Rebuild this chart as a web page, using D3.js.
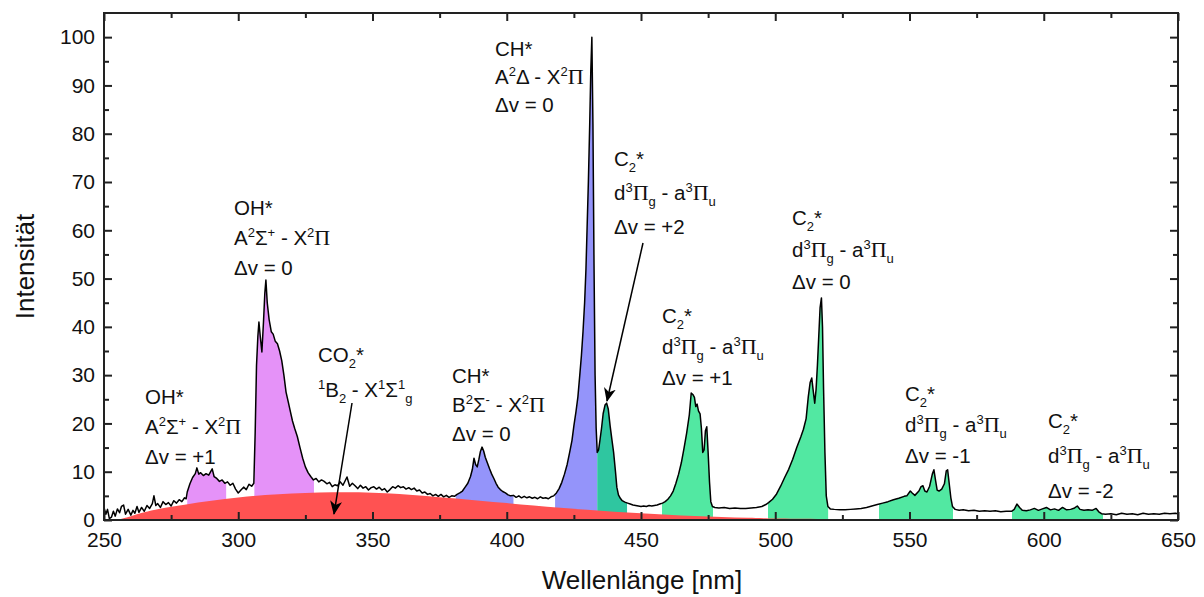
<!DOCTYPE html>
<html lang="de">
<head>
<meta charset="UTF-8">
<title>Flammenspektrum</title>
<script src="https://cdn.jsdelivr.net/npm/d3@7"></script>
<style>
    body { margin: 0; padding: 0; background: #fff; }
    svg { display: block; font-family: Arial, "Liberation Sans", sans-serif; }
    .tick text { font-size: 21px; fill: #111; }
    .label { font-size: 20.5px; fill: #111; }
</style>
</head>
<body>
<div id="chart"></div>
<script>
// ---- data ----
const spectrum = [
    [250, 2.6], [250.7, 1.2], [251.3, 2.2], [252, 0.3], [252.8, 0.6], [253.5, 1.8], [254.2, 0.8], [255, 2.3],
    [255.8, 1.5], [256.5, 2.8], [257.3, 3.1], [258, 1.2], [259, 2.2], [260, 1.0], [260.8, 2.0], [261.5, 1.4],
    [262.3, 2.8], [263, 1.6], [264, 2.6], [265, 1.8], [266, 3.0], [267, 2.4], [268, 3.4], [268.6, 5.0],
    [269.3, 3.0], [270, 3.4], [271, 2.6], [272, 3.8], [273, 3.2], [274, 3.6], [275, 2.9], [276, 4.0],
    [277, 3.5], [278, 4.2], [279, 3.8], [280, 4.6], [280.6, 4.4], [281, 5.8], [282, 7.5], [283, 8.8],
    [284, 9.6], [284.6, 10.8], [285.3, 9.5], [286, 9.8], [287, 9.2], [288, 9.6], [289, 9.3], [290.3, 10.6],
    [291, 9.0], [292, 8.6], [293, 8.0], [294, 8.3], [295, 7.6], [296, 7.9], [297, 7.2], [298, 7.6],
    [299, 6.4], [300, 5.6], [301, 6.2], [302, 6.8], [303, 6.3], [304, 7.4], [305, 7.0], [305.8, 7.6],
    [306.3, 18], [306.8, 32], [307.3, 38], [307.7, 41], [308.2, 38], [308.8, 34.8], [309.4, 41], [309.9, 47],
    [310.3, 49.7], [310.8, 45], [311.5, 41.5], [312.3, 39], [313, 38.5], [313.8, 37], [314.6, 36.5], [315.4, 35],
    [316.2, 33], [317, 30], [317.8, 26.5], [318.6, 24.5], [319.4, 22.5], [320.2, 20.5], [321, 19], [322, 17.3],
    [323, 15], [324, 12.8], [325, 11], [326, 9.8], [327, 9.0], [328, 8.3], [329, 8.6], [330, 7.9],
    [331, 8.3], [332, 8.0], [333, 7.5], [334, 7.8], [335, 6.9], [336, 7.3], [337, 7.1], [338, 7.9],
    [339, 7.2], [340.5, 8.9], [341.5, 7.0], [342.5, 7.6], [343.5, 7.1], [344.5, 6.5], [345.5, 7.2], [346.5, 6.6],
    [347.5, 6.9], [348.5, 6.2], [349.5, 6.7], [350.5, 6.9], [351.5, 6.4], [352.5, 6.8], [353.5, 6.2], [354.5, 6.5],
    [355.5, 5.8], [356.5, 6.3], [357.5, 6.9], [358.5, 6.6], [359.5, 7.1], [360.5, 6.7], [361.5, 6.9], [362.5, 6.4],
    [363.5, 6.7], [364.5, 6.3], [365.5, 6.6], [366.5, 6.0], [367.5, 6.2], [368.5, 5.6], [369.5, 5.8], [370.5, 5.3],
    [371.5, 5.5], [372.5, 5.0], [373.5, 5.3], [374.5, 4.9], [375.5, 5.3], [376.5, 4.8], [377.5, 5.1], [378.5, 4.7],
    [379.5, 5.0], [380.5, 4.9], [381.5, 5.3], [382.5, 5.6], [383.5, 6.0], [384.5, 6.8], [385.5, 7.6], [386.5, 9.0],
    [387.2, 10.5], [387.8, 12.8], [388.4, 11.5], [389, 11.0], [389.6, 12.5], [390.2, 14.2], [390.8, 15.1], [391.4, 14.3],
    [392, 13.0], [392.8, 11.8], [393.6, 10.6], [394.4, 9.5], [395.2, 8.6], [396, 7.6], [396.8, 6.8], [397.6, 6.3],
    [398.5, 5.9], [399.5, 5.6], [400.5, 5.2], [401.5, 5.0], [402.5, 5.1], [403.5, 4.7], [404.5, 5.0], [405.5, 4.6],
    [406.5, 4.9], [407.5, 4.6], [408.5, 4.8], [409.5, 4.5], [410.5, 4.7], [411.5, 4.4], [412.5, 4.8], [413.5, 4.5],
    [414.5, 4.6], [415.5, 4.4], [416.5, 4.8], [417.5, 5.0], [418.5, 5.6], [419.5, 6.5], [420.5, 7.8], [421.5, 9.5],
    [422.5, 11.5], [423.5, 14.2], [424.3, 16.5], [425, 19.5], [425.8, 22.5], [426.5, 25.5], [427.2, 30], [427.8, 34],
    [428.4, 39], [429, 45], [429.5, 52], [429.9, 60], [430.4, 70], [430.9, 82], [431.3, 93], [431.7, 100],
    [432.1, 82], [432.5, 53], [432.9, 30], [433.3, 19], [433.7, 14], [434.2, 14.5], [434.7, 16.5], [435.3, 19],
    [435.9, 22], [436.6, 23.8], [437.2, 24.2], [437.8, 23], [438.5, 19.5], [439.2, 16.5], [439.8, 14], [440.5, 10],
    [441, 6.8], [441.6, 5.2], [442.3, 4.5], [443, 4.0], [444, 3.7], [445, 3.5], [446, 3.3], [447, 3.1],
    [448, 3.0], [449, 2.9], [450, 2.8], [451, 2.9], [452, 2.8], [453, 3.0], [454, 2.9], [455, 3.0],
    [456, 3.1], [457, 3.3], [458, 3.5], [459, 3.8], [460, 4.3], [461, 5.0], [462, 6.0], [463, 7.6],
    [464, 9.5], [465, 11.8], [466, 14.8], [467, 18.0], [468, 21.8], [468.7, 26.3], [469.3, 26], [469.9, 25.4],
    [470.4, 23.5], [470.9, 24.0], [471.4, 22.6], [472, 22], [472.5, 19], [473, 14], [473.5, 14.5], [474, 18.5],
    [474.5, 19.3], [475, 14], [475.5, 8], [476, 3.8], [476.6, 2.8], [477.5, 2.6], [479, 2.5], [481, 2.6],
    [483, 2.4], [485, 2.5], [487, 2.4], [489, 2.4], [491, 2.5], [493, 2.6], [495, 2.8], [496.5, 3.2],
    [497.5, 3.6], [499, 4.3], [500.5, 5.4], [502, 7.0], [503.5, 8.8], [505, 10.5], [506.5, 12.6], [508, 15],
    [509.5, 17.2], [510.5, 18.8], [511.5, 21], [512.3, 25.5], [513, 28.5], [513.6, 29.4], [514.2, 26.5], [514.7, 24.2],
    [515.2, 27], [515.7, 32], [516.2, 38], [516.7, 44], [517.2, 46], [517.6, 40], [518, 27], [518.5, 14],
    [519, 5], [519.6, 2.8], [520.5, 2.3], [522, 2.2], [524, 2.1], [526, 2.1], [528, 2.2], [530, 2.3],
    [532, 2.4], [534, 2.6], [536, 2.9], [538, 3.2], [540, 3.5], [542, 3.8], [544, 4.2], [546, 4.5],
    [548, 4.9], [549, 5.0], [550.3, 6.0], [551, 5.6], [552, 5.1], [553.5, 6.0], [554.3, 6.9], [555, 7.1],
    [555.7, 6.0], [556.5, 5.8], [557.5, 7.0], [558.5, 9.5], [559.1, 10.4], [559.7, 8.2], [560.3, 6.2], [561, 6.0],
    [562, 6.4], [563, 7.5], [563.7, 10.2], [564.2, 10.4], [564.8, 7.5], [565.4, 4.6], [566, 2.8], [567, 2.2],
    [568.5, 2.0], [570, 2.1], [572, 1.9], [574, 2.0], [576, 1.8], [578, 1.9], [580, 1.8], [582, 1.9],
    [584, 1.7], [586, 1.8], [588, 1.8], [589, 2.2], [590, 3.3], [591, 2.6], [592, 2.0], [593.5, 1.9],
    [595, 2.1], [596.5, 2.4], [598, 2.0], [599.5, 2.3], [601, 2.6], [602.5, 2.1], [604, 2.3], [605.5, 2.0],
    [607, 2.6], [608.5, 2.1], [610, 2.2], [611.5, 2.5], [612.5, 2.9], [613.5, 2.2], [615, 2.0], [616.5, 2.1],
    [618, 2.0], [619.5, 2.4], [620.5, 1.7], [621.5, 1.3], [623, 1.2], [625, 1.3], [627, 1.1], [629, 1.4],
    [631, 1.2], [633, 1.3], [635, 1.1], [637, 1.4], [639, 1.2], [641, 1.3], [643, 1.2], [645, 1.4],
    [647, 1.3], [649, 1.4], [650, 1.3]
];

// CO2* continuum (red)
const co2 = [
    [255, 0], [260, 0.8], [265, 1.6], [270, 2.3], [280, 3.2], [290, 4.0], [300, 4.7], [310, 5.2],
    [320, 5.5], [330, 5.7], [340, 5.8], [350, 5.7], [360, 5.4], [370, 5.0], [380, 4.5], [390, 4.0],
    [400, 3.5], [410, 3.0], [420, 2.5], [430, 2.1], [440, 1.7], [450, 1.4], [460, 1.1], [470, 0.8],
    [480, 0.6], [490, 0.45], [500, 0.3], [520, 0.2], [550, 0.15], [600, 0.12], [650, 0.12]
];

// shaded bands [from, to, species]
const bands = [
    [281, 295.5, 'OH'], [306, 328.2, 'OH'],
    [381, 402.5, 'CH'], [418, 433.7, 'CH'],
    [433.7, 444.8, 'C2a'],
    [457.8, 476.8, 'C2'], [497.3, 519.7, 'C2'], [538.6, 566.2, 'C2'], [588.2, 622.1, 'C2']
];

const xTicks = [250, 300, 350, 400, 450, 500, 550, 600, 650];
const yTicks = [0, 10, 20, 30, 40, 50, 60, 70, 80, 90, 100];

// ---- layout ----
const W = 1204, H = 597;
const L = 104, R = 1178, T = 13, B = 520;

const bandColor = { OH: '#e592f8', CH: '#9494fa', C2a: '#2fc6a0', C2: '#52e8a2' };

// labels: x,y = left/baseline of first line, lines use ^{} sup and _{} sub
const labels = [
    { x: 145, y: 404, gap: 30, lines: ['OH*', 'A^{2}Σ^{+} - X^{2}Π', 'Δv = +1'] },
    { x: 234, y: 215, gap: 30, lines: ['OH*', 'A^{2}Σ^{+} - X^{2}Π', 'Δv = 0'] },
    { x: 318, y: 362, gap: 35, lines: ['CO_{2}*', '^{1}B_{2} - X^{1}Σ^{1}_{g}'] },
    { x: 452, y: 383, gap: 29, lines: ['CH*', 'B^{2}Σ^{-} - X^{2}Π', 'Δv = 0'] },
    { x: 495, y: 56, gap: 28, lines: ['CH*', 'A^{2}Δ - X^{2}Π', 'Δv = 0'] },
    { x: 614, y: 166, gap: 34, lines: ['C_{2}*', 'd^{3}Π_{g} - a^{3}Π_{u}', 'Δv = +2'] },
    { x: 662, y: 323, gap: 31, lines: ['C_{2}*', 'd^{3}Π_{g} - a^{3}Π_{u}', 'Δv = +1'] },
    { x: 792, y: 225, gap: 32, lines: ['C_{2}*', 'd^{3}Π_{g} - a^{3}Π_{u}', 'Δv = 0'] },
    { x: 905, y: 401, gap: 31, lines: ['C_{2}*', 'd^{3}Π_{g} - a^{3}Π_{u}', 'Δv = -1'] },
    { x: 1048, y: 428, gap: 35, lines: ['C_{2}*', 'd^{3}Π_{g} - a^{3}Π_{u}', 'Δv = -2'] }
];

const arrows = [
    [352, 403, 334, 514],
    [643, 243, 607, 401]
];

const x = d3.scaleLinear().domain([250, 650]).range([L, R]);
const y = d3.scaleLinear().domain([0, 105]).range([B, T]);

const svg = d3.select('#chart').append('svg')
    .attr('width', W)
    .attr('height', H);

const defs = svg.append('defs');

defs.append('marker')
    .attr('id', 'head')
    .attr('viewBox', '0 0 14 12')
    .attr('refX', 13).attr('refY', 6)
    .attr('markerWidth', 14).attr('markerHeight', 12)
    .attr('markerUnits', 'userSpaceOnUse')
    .attr('orient', 'auto')
    .append('path')
    .attr('d', 'M0,0 L14,6 L0,12 L4,6 Z')
    .attr('fill', '#000');

const fullArea = d3.area()
    .x(d => x(d[0]))
    .y0(y(0))
    .y1(d => y(d[1]));

// coloured bands, each clipped to its wavelength range
bands.forEach((b, i) => {
    defs.append('clipPath').attr('id', 'band' + i)
        .append('rect')
        .attr('x', x(b[0])).attr('y', T)
        .attr('width', x(b[1]) - x(b[0]))
        .attr('height', B - T);
    svg.append('path')
        .datum(spectrum)
        .attr('clip-path', `url(#band${i})`)
        .attr('fill', bandColor[b[2]])
        .attr('d', fullArea);
});

// CO2 continuum on top of the bands
svg.append('path')
    .datum(co2)
    .attr('fill', '#ff5252')
    .attr('d', d3.area().curve(d3.curveBasis).x(d => x(d[0])).y0(y(0)).y1(d => y(d[1])));

// spectrum line
svg.append('path')
    .datum(spectrum)
    .attr('fill', 'none')
    .attr('stroke', '#000')
    .attr('stroke-width', 1.5)
    .attr('stroke-linejoin', 'round')
    .attr('d', d3.line().x(d => x(d[0])).y(d => y(d[1])));

// axes: ticks pointing inwards on all four sides
const minorX = d3.range(275, 650, 50);
const minorY = d3.range(5, 105, 10);

function tickAxis(axisFn, scale, values, size, labelled) {
    return axisFn(scale).tickValues(values).tickSizeInner(size).tickSizeOuter(0)
        .tickFormat(labelled ? d3.format('d') : '');
}

const gBottom = svg.append('g').attr('transform', `translate(0,${B})`);
gBottom.call(tickAxis(d3.axisTop, x, xTicks, 8, false));
gBottom.append('g').call(tickAxis(d3.axisTop, x, minorX, 5, false));
gBottom.append('g').call(tickAxis(d3.axisBottom, x, xTicks, 0, true).tickPadding(12));

const gTop = svg.append('g').attr('transform', `translate(0,${T})`);
gTop.call(tickAxis(d3.axisBottom, x, xTicks, 8, false));
gTop.append('g').call(tickAxis(d3.axisBottom, x, minorX, 5, false));

const gLeft = svg.append('g').attr('transform', `translate(${L},0)`);
gLeft.call(tickAxis(d3.axisRight, y, yTicks, 8, false));
gLeft.append('g').call(tickAxis(d3.axisRight, y, minorY, 5, false));
gLeft.append('g').call(tickAxis(d3.axisLeft, y, yTicks, 0, true).tickPadding(9));

const gRight = svg.append('g').attr('transform', `translate(${R},0)`);
gRight.call(tickAxis(d3.axisLeft, y, yTicks, 8, false));
gRight.append('g').call(tickAxis(d3.axisLeft, y, minorY, 5, false));

svg.selectAll('.domain').remove();
svg.selectAll('.tick line').attr('stroke', '#222').attr('stroke-width', 2);

svg.append('rect')
    .attr('x', L).attr('y', T)
    .attr('width', R - L).attr('height', B - T)
    .attr('fill', 'none')
    .attr('stroke', '#222')
    .attr('stroke-width', 2);

// axis titles
svg.append('text')
    .attr('x', 642).attr('y', 589)
    .attr('text-anchor', 'middle')
    .attr('font-size', 26)
    .attr('fill', '#111')
    .text('Wellenlänge [nm]');

svg.append('text')
    .attr('transform', `translate(34,${(T + B) / 2}) rotate(-90)`)
    .attr('text-anchor', 'middle')
    .attr('font-size', 26)
    .attr('fill', '#111')
    .text('Intensität');

// rich text labels with sub/superscripts
function writeRich(textEl, str) {
    const parts = str.split(/(\^\{[^}]*\}|_\{[^}]*\})/).filter(s => s.length);
    let shift = 0;
    parts.forEach(p => {
        let t = p, target = 0, small = false;
        if (p.startsWith('^{')) { t = p.slice(2, -1); target = -8; small = true; }
        else if (p.startsWith('_{')) { t = p.slice(2, -1); target = 6; small = true; }
        t.split(/(Π)/).filter(s => s.length).forEach(seg => {
            const ts = textEl.append('tspan').text(seg).attr('dy', target - shift);
            shift = target;
            if (small) ts.attr('font-size', 13);
            if (seg === 'Π') ts.attr('font-family', '"Liberation Serif", "DejaVu Serif", serif').attr('font-size', 22);
        });
    });
}

labels.forEach(lb => {
    lb.lines.forEach((ln, i) => {
        const t = svg.append('text')
            .attr('class', 'label')
            .attr('x', lb.x)
            .attr('y', lb.y + i * lb.gap);
        writeRich(t, ln);
    });
});

arrows.forEach(a => {
    svg.append('line')
        .attr('x1', a[0]).attr('y1', a[1])
        .attr('x2', a[2]).attr('y2', a[3])
        .attr('stroke', '#000')
        .attr('stroke-width', 1.5)
        .attr('marker-end', 'url(#head)');
});
</script>
</body>
</html>
